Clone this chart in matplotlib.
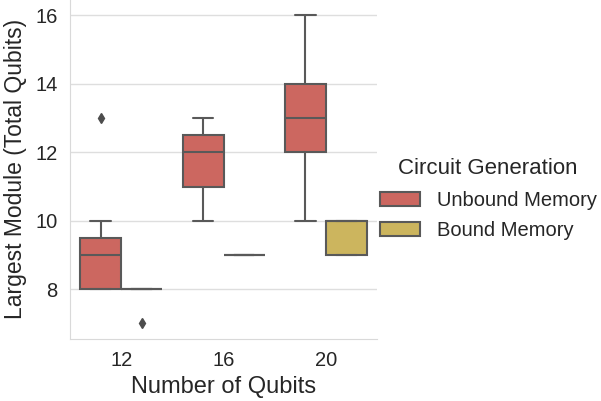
import numpy as np
import pandas as pd
import matplotlib
matplotlib.use("Agg")
import matplotlib.pyplot as plt
import seaborn as sns

# raw samples per group (chosen to reproduce the box statistics in the picture)
qubits = [12, 16, 20]
methods = ["Unbound Memory", "Bound Memory"]
unbound_12 = [8, 8, 8, 9, 9, 10, 13]
bound_12 = [8, 8, 8, 8, 8, 8, 7]
unbound_16 = [10, 11, 11, 12, 12, 13, 13]
bound_16 = [9, 9, 9, 9, 9, 9, 9]
unbound_20 = [10, 12, 12, 13, 14, 14, 16]
bound_20 = [9, 9, 9, 10, 10, 10, 10]

groups = {
    (12, "Unbound Memory"): unbound_12,
    (12, "Bound Memory"): bound_12,
    (16, "Unbound Memory"): unbound_16,
    (16, "Bound Memory"): bound_16,
    (20, "Unbound Memory"): unbound_20,
    (20, "Bound Memory"): bound_20,
}
rows = []
for (q, m), vals in groups.items():
    for v in vals:
        rows.append({"Number of Qubits": q, "Circuit Generation": m, "Largest Module": v})
df = pd.DataFrame(rows)

sns.set_style("whitegrid")
plt.rcParams['font.family'] = ['Liberation Sans', 'DejaVu Sans']

fig = plt.figure(figsize=(6.01, 4.01), dpi=100)
ax = fig.add_axes([0.1165, 0.155, 0.511, 0.845])

pal = ["#cc6760", "#ccb55e"]
sns.boxplot(data=df, x="Number of Qubits", y="Largest Module", hue="Circuit Generation",
            hue_order=methods, order=qubits, palette=pal, saturation=1, width=0.8,
            linewidth=1.5, ax=ax,
            boxprops=dict(edgecolor="0.35"),
            whiskerprops=dict(color="0.35"), capprops=dict(color="0.35"),
            medianprops=dict(color="0.35"),
            flierprops=dict(marker="d", markerfacecolor="0.3", markeredgecolor="0.3",
                            markersize=5))

ax.set_xlabel("Number of Qubits", fontsize=17, color="0.15", labelpad=4)
ax.set_ylabel("Largest Module (Total Qubits)", fontsize=16.5, color="0.15", labelpad=6)
ax.set_yticks([8, 10, 12, 14, 16])
ax.tick_params(labelsize=14.5, colors="0.15", length=0, pad=9)
ax.grid(axis="y", color="0.87", linewidth=1)
ax.grid(axis="x", visible=False)
sns.despine(ax=ax)
for s in ["left", "bottom"]:
    ax.spines[s].set_color("0.85")

handles, labels = ax.get_legend_handles_labels()
ax.get_legend().remove()
leg = fig.legend(handles, labels, title="Circuit Generation", loc="center left",
                 bbox_to_anchor=(0.632, 0.503), frameon=False, fontsize=14.5,
                 title_fontsize=16, handlelength=1.98, handleheight=0.69,
                 handletextpad=0.84, labelspacing=0.58, borderpad=0,
                 borderaxespad=0)
for t in leg.get_texts():
    t.set_color("0.15")
leg.get_title().set_color("0.15")

fig.savefig("out.png", dpi=100)
